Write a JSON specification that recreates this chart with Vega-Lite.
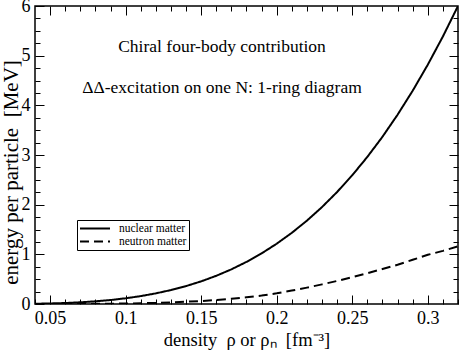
{
  "$schema": "https://vega.github.io/schema/vega-lite/v6.json",
  "width": 423,
  "height": 298,
  "autosize": {"type": "none"},
  "padding": {"left": 35, "top": 6, "right": 3, "bottom": 49},
  "background": "white",
  "config": {
    "view": {"stroke": "#000", "strokeWidth": 1.5},
    "font": "Liberation Serif, Times New Roman, serif",
    "axis": {"grid": false, "domain": false, "tickColor": "#000", "labelColor": "#000", "titleColor": "#000", "labelFont": "Liberation Serif, Times New Roman, serif", "titleFont": "Liberation Serif, Times New Roman, serif", "titleFontWeight": "normal", "tickWidth": 1}
  },
  "datasets": {
    "curves": [
      {"rho": 0.04, "E": 0.005, "matter": "nuclear matter"},
      {"rho": 0.05, "E": 0.011, "matter": "nuclear matter"},
      {"rho": 0.06, "E": 0.020, "matter": "nuclear matter"},
      {"rho": 0.07, "E": 0.034, "matter": "nuclear matter"},
      {"rho": 0.08, "E": 0.054, "matter": "nuclear matter"},
      {"rho": 0.09, "E": 0.080, "matter": "nuclear matter"},
      {"rho": 0.10, "E": 0.115, "matter": "nuclear matter"},
      {"rho": 0.11, "E": 0.159, "matter": "nuclear matter"},
      {"rho": 0.12, "E": 0.214, "matter": "nuclear matter"},
      {"rho": 0.13, "E": 0.281, "matter": "nuclear matter"},
      {"rho": 0.14, "E": 0.361, "matter": "nuclear matter"},
      {"rho": 0.15, "E": 0.456, "matter": "nuclear matter"},
      {"rho": 0.16, "E": 0.568, "matter": "nuclear matter"},
      {"rho": 0.17, "E": 0.698, "matter": "nuclear matter"},
      {"rho": 0.18, "E": 0.848, "matter": "nuclear matter"},
      {"rho": 0.19, "E": 1.019, "matter": "nuclear matter"},
      {"rho": 0.20, "E": 1.214, "matter": "nuclear matter"},
      {"rho": 0.21, "E": 1.433, "matter": "nuclear matter"},
      {"rho": 0.22, "E": 1.678, "matter": "nuclear matter"},
      {"rho": 0.23, "E": 1.952, "matter": "nuclear matter"},
      {"rho": 0.24, "E": 2.256, "matter": "nuclear matter"},
      {"rho": 0.25, "E": 2.592, "matter": "nuclear matter"},
      {"rho": 0.26, "E": 2.962, "matter": "nuclear matter"},
      {"rho": 0.27, "E": 3.367, "matter": "nuclear matter"},
      {"rho": 0.28, "E": 3.811, "matter": "nuclear matter"},
      {"rho": 0.29, "E": 4.294, "matter": "nuclear matter"},
      {"rho": 0.30, "E": 4.818, "matter": "nuclear matter"},
      {"rho": 0.31, "E": 5.386, "matter": "nuclear matter"},
      {"rho": 0.32, "E": 6.0, "matter": "nuclear matter"},
      {"rho": 0.04, "E": 0.0002, "matter": "neutron matter"},
      {"rho": 0.05, "E": 0.0005, "matter": "neutron matter"},
      {"rho": 0.06, "E": 0.001, "matter": "neutron matter"},
      {"rho": 0.07, "E": 0.002, "matter": "neutron matter"},
      {"rho": 0.08, "E": 0.0035, "matter": "neutron matter"},
      {"rho": 0.09, "E": 0.006, "matter": "neutron matter"},
      {"rho": 0.10, "E": 0.010, "matter": "neutron matter"},
      {"rho": 0.11, "E": 0.015, "matter": "neutron matter"},
      {"rho": 0.12, "E": 0.022, "matter": "neutron matter"},
      {"rho": 0.13, "E": 0.032, "matter": "neutron matter"},
      {"rho": 0.14, "E": 0.045, "matter": "neutron matter"},
      {"rho": 0.15, "E": 0.060, "matter": "neutron matter"},
      {"rho": 0.16, "E": 0.080, "matter": "neutron matter"},
      {"rho": 0.17, "E": 0.105, "matter": "neutron matter"},
      {"rho": 0.18, "E": 0.135, "matter": "neutron matter"},
      {"rho": 0.19, "E": 0.170, "matter": "neutron matter"},
      {"rho": 0.20, "E": 0.215, "matter": "neutron matter"},
      {"rho": 0.21, "E": 0.270, "matter": "neutron matter"},
      {"rho": 0.22, "E": 0.330, "matter": "neutron matter"},
      {"rho": 0.23, "E": 0.395, "matter": "neutron matter"},
      {"rho": 0.24, "E": 0.465, "matter": "neutron matter"},
      {"rho": 0.25, "E": 0.540, "matter": "neutron matter"},
      {"rho": 0.26, "E": 0.620, "matter": "neutron matter"},
      {"rho": 0.27, "E": 0.705, "matter": "neutron matter"},
      {"rho": 0.28, "E": 0.790, "matter": "neutron matter"},
      {"rho": 0.29, "E": 0.890, "matter": "neutron matter"},
      {"rho": 0.30, "E": 0.990, "matter": "neutron matter"},
      {"rho": 0.31, "E": 1.070, "matter": "neutron matter"},
      {"rho": 0.32, "E": 1.160, "matter": "neutron matter"}
    ]
  },
  "resolve": {"axis": {"x": "independent", "y": "independent"}},
  "layer": [
    {
      "data": {"name": "curves"},
      "mark": {"type": "line", "color": "#000", "strokeWidth": 2, "clip": true},
      "encoding": {
        "x": {"field": "rho", "type": "quantitative", "scale": {"domain": [0.04, 0.32], "nice": false, "zero": false},
          "axis": {"orient": "bottom", "values": [0.05, 0.1, 0.15, 0.2, 0.25, 0.3], "format": "~g", "tickSize": -9, "labelFontSize": 18, "labelPadding": 14, "title": "density\u00a0\u00a0ρ or ρₙ\u00a0\u00a0[fm⁻³]", "titleFontSize": 18.5, "titlePadding": 3, "labelFlush": false}},
        "y": {"field": "E", "type": "quantitative", "scale": {"domain": [0, 6], "nice": false},
          "axis": {"orient": "left", "values": [0, 1, 2, 3, 4, 5, 6], "tickSize": -9, "labelFontSize": 18, "labelPadding": 14, "title": "energy per particle\u00a0\u00a0[MeV]", "titleFontSize": 21, "titlePadding": 0, "titleY": 166, "labelFlush": false}},
        "strokeDash": {"field": "matter", "type": "nominal",
          "scale": {"domain": ["nuclear matter", "neutron matter"], "range": [[1, 0], [9, 5]]},
          "legend": {"title": null, "orient": "none", "legendX": 42, "legendY": 214, "symbolType": "stroke", "symbolSize": 900, "clipHeight": 13, "symbolStrokeWidth": 2, "symbolStrokeColor": "#000", "labelFontSize": 11.5, "labelFont": "Liberation Serif, Times New Roman, serif", "labelColor": "#000", "strokeColor": "#000", "fillColor": "white", "padding": 2, "rowPadding": 0, "labelOffset": 8}}
      }
    },
    {
      "data": {"name": "curves"},
      "mark": {"type": "point", "opacity": 0},
      "encoding": {
        "x": {"field": "rho", "type": "quantitative",
          "axis": {"orient": "bottom", "values": [0.04, 0.06, 0.07, 0.08, 0.09, 0.11, 0.12, 0.13, 0.14, 0.16, 0.17, 0.18, 0.19, 0.21, 0.22, 0.23, 0.24, 0.26, 0.27, 0.28, 0.29, 0.31, 0.32], "tickSize": -5, "labels": false, "title": null}},
        "y": {"field": "E", "type": "quantitative",
          "axis": {"orient": "left", "values": [0.25, 0.5, 0.75, 1.25, 1.5, 1.75, 2.25, 2.5, 2.75, 3.25, 3.5, 3.75, 4.25, 4.5, 4.75, 5.25, 5.5, 5.75], "tickSize": -5, "labels": false, "title": null}}
      }
    },
    {
      "data": {"name": "curves"},
      "mark": {"type": "point", "opacity": 0},
      "encoding": {
        "x": {"field": "rho", "type": "quantitative",
          "axis": {"orient": "top", "values": [0.05, 0.1, 0.15, 0.2, 0.25, 0.3], "tickSize": -9, "labels": false, "title": null}},
        "y": {"field": "E", "type": "quantitative",
          "axis": {"orient": "right", "values": [1, 2, 3, 4, 5], "tickSize": -9, "labels": false, "title": null}}
      }
    },
    {
      "data": {"name": "curves"},
      "mark": {"type": "point", "opacity": 0},
      "encoding": {
        "x": {"field": "rho", "type": "quantitative",
          "axis": {"orient": "top", "values": [0.06, 0.07, 0.08, 0.09, 0.11, 0.12, 0.13, 0.14, 0.16, 0.17, 0.18, 0.19, 0.21, 0.22, 0.23, 0.24, 0.26, 0.27, 0.28, 0.29, 0.31], "tickSize": -5, "labels": false, "title": null}},
        "y": {"field": "E", "type": "quantitative",
          "axis": {"orient": "right", "values": [0.25, 0.5, 0.75, 1.25, 1.5, 1.75, 2.25, 2.5, 2.75, 3.25, 3.5, 3.75, 4.25, 4.5, 4.75, 5.25, 5.5, 5.75], "tickSize": -5, "labels": false, "title": null}}
      }
    },
    {
      "data": {"values": [{}]},
      "mark": {"type": "text", "text": "Chiral four-body contribution", "font": "Liberation Serif, Times New Roman, serif", "fontSize": 17.5, "color": "#000", "align": "center", "baseline": "middle"},
      "encoding": {
        "x": {"datum": 0.1638, "type": "quantitative", "axis": null},
        "y": {"datum": 5.17, "type": "quantitative", "axis": null}
      }
    },
    {
      "data": {"values": [{}]},
      "mark": {"type": "text", "text": "ΔΔ-excitation on one N: 1-ring diagram", "font": "Liberation Serif, Times New Roman, serif", "fontSize": 17.5, "color": "#000", "align": "center", "baseline": "middle"},
      "encoding": {
        "x": {"datum": 0.1638, "type": "quantitative", "axis": null},
        "y": {"datum": 4.35, "type": "quantitative", "axis": null}
      }
    }
  ]
}
